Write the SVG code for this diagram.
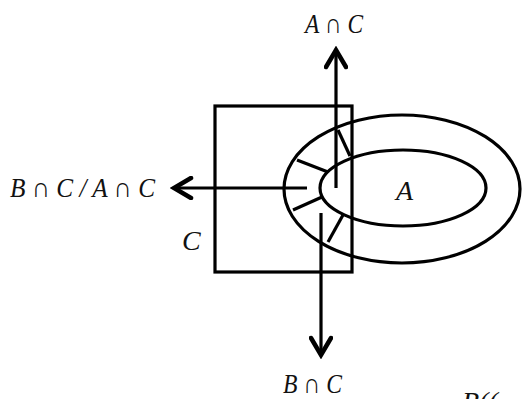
<svg xmlns="http://www.w3.org/2000/svg" width="522" height="399" viewBox="0 0 522 399">
<defs>
<style>
.ln{fill:none;stroke:#000;stroke-width:3.2}
.tx{font-family:"Liberation Serif","DejaVu Serif",serif;font-style:italic;font-size:28px;fill:#111}
</style>
<marker id="ah" markerUnits="userSpaceOnUse" viewBox="-22 -12 26 24" markerWidth="26" markerHeight="24" refX="0" refY="0" orient="auto">
<path d="M-17,-10 L0,0 L-17,10" fill="none" stroke="#000" stroke-width="4.5" stroke-linejoin="miter" stroke-linecap="round"/>
</marker>
</defs>
<rect width="522" height="399" fill="#fff"/>
<g id="C">
<rect class="ln" x="215" y="106" width="137" height="166"/>
<text class="tx" x="182" y="250">C</text>
</g>
<g id="B">
<ellipse class="ln" cx="402" cy="189" rx="118" ry="74"/>
</g>
<g id="A">
<ellipse class="ln" cx="403" cy="188" rx="83" ry="38"/>
<text class="tx" x="396" y="200">A</text>
</g>
<g id="spokes">
<line class="ln" x1="338" y1="130" x2="350" y2="156"/>
<line class="ln" x1="297" y1="160" x2="328" y2="172"/>
<line class="ln" x1="293" y1="210" x2="322" y2="197"/>
<line class="ln" x1="328" y1="242" x2="343" y2="215"/>
</g>
<g id="connectors">
<line class="ln" x1="336" y1="188" x2="336" y2="50" marker-end="url(#ah)"/>
<line class="ln" x1="307" y1="188" x2="174" y2="188" marker-end="url(#ah)"/>
<line class="ln" x1="321" y1="213" x2="321" y2="355" marker-end="url(#ah)"/>
</g>
<g id="labels">
<text class="tx" x="305" y="33" textLength="58" lengthAdjust="spacingAndGlyphs">A ∩ C</text>
<text class="tx" x="10" y="197" textLength="145" lengthAdjust="spacingAndGlyphs">B ∩ C / A ∩ C</text>
<text class="tx" x="283" y="393" textLength="59" lengthAdjust="spacingAndGlyphs">B ∩ C</text>
<text class="tx" x="462" y="411" font-size="36">B((</text>
</g>
</svg>
